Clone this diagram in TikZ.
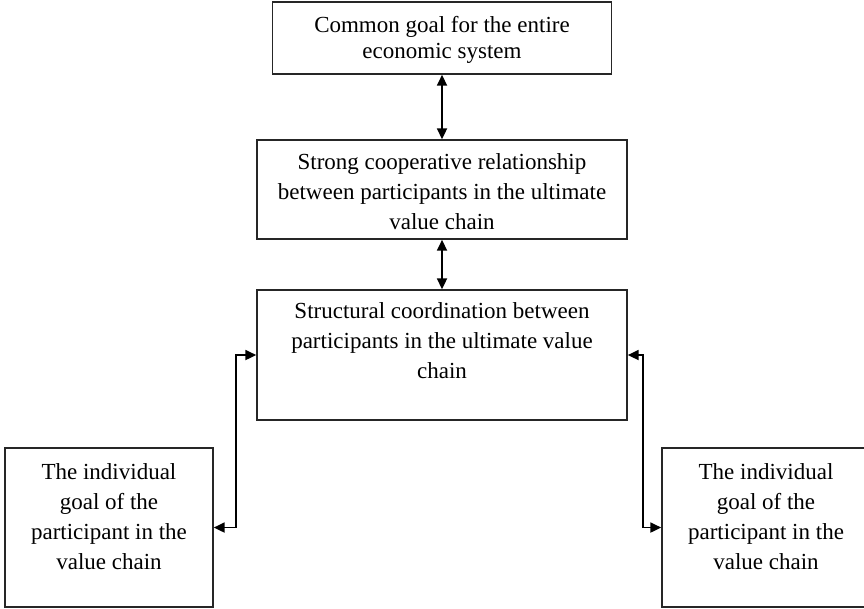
\documentclass[tikz,border=0pt]{standalone}
\usepackage{fontspec}
\setmainfont{Liberation Serif}
\usetikzlibrary{arrows.meta,calc}
\begin{document}
\begin{tikzpicture}[x=0.75pt,y=-0.75pt,
  box/.style={draw=black!85,line width=1.3pt,inner sep=0pt,rectangle},
  txt/.style={align=center,inner sep=0pt,font=\fontsize{17.25}{22.5}\selectfont},
  link/.style={<->,line width=1.3pt,>={Triangle[length=8pt,width=7.5pt]}}]
\clip (0,0) rectangle (864,608);
% boxes
\node[box,minimum width=254.25pt,minimum height=54pt] (top) at (442,38) {};
\node[box,minimum width=277.5pt,minimum height=74.25pt] (mid) at (442,189.5) {};
\node[box,minimum width=277.5pt,minimum height=97.5pt] (str) at (442,355) {};
\node[box,minimum width=156pt,minimum height=119.25pt] (lb) at (109,527.5) {};
\node[box,minimum width=156pt,minimum height=119.25pt] (rb) at (766,527.5) {};
% texts
\node[txt,font=\fontsize{17.25}{20}\selectfont] (toptxt) at ($(top.center)+(0,2)$) {Common goal for the entire\\economic system};
\node[txt] (midtxt) at ($(mid.center)+(0,2)$) {Strong cooperative relationship\\between participants in the ultimate\\value chain};
\node[txt] (strtxt) at ($(str.north)+(0,51)$) {Structural coordination between\\participants in the ultimate value\\chain};
\node[txt] (lbtxt) at ($(lb.center)+(0,-11)$) {The individual\\goal of the\\participant in the\\value chain};
\node[txt] (rbtxt) at ($(rb.center)+(0,-11)$) {The individual\\goal of the\\participant in the\\value chain};
% connectors
\draw[link] (top.south) -- (mid.north);
\draw[link] (mid.south) -- (str.north);
\draw[link] (lb.east) -- ++(22,0) |- (str.west);
\draw[link] (rb.west) -- ++(-18,0) |- (str.east);
\end{tikzpicture}
\end{document}
